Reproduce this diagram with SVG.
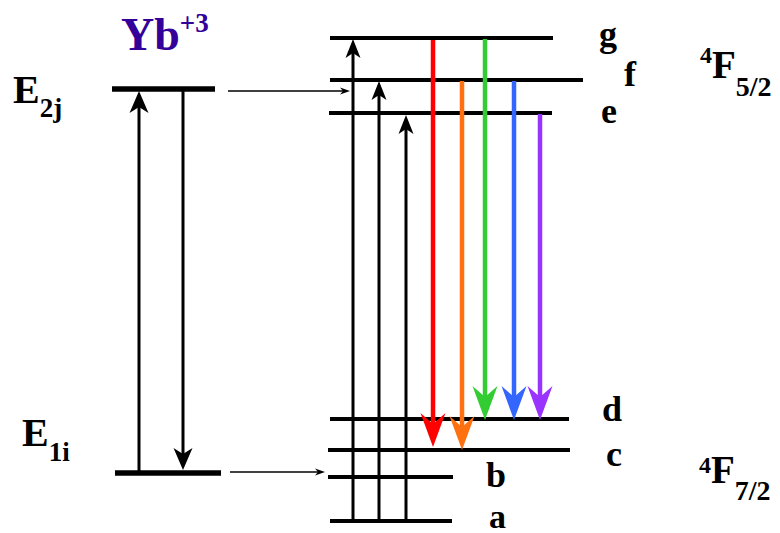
<svg xmlns="http://www.w3.org/2000/svg" width="780" height="533" viewBox="0 0 780 533">
<style>
.t{font-family:"Liberation Serif","Times New Roman",serif;font-weight:700;fill:#000}
.lvL{stroke:#000;stroke-width:5.5}
.lvR{stroke:#000;stroke-width:4}
.ab{stroke:#000;stroke-width:3;fill:none}
.thin{stroke:#000;stroke-width:1.3;fill:none}
.c{stroke-width:4.5;fill:none}
</style>
<defs>
<marker id="mBig" markerUnits="userSpaceOnUse" viewBox="-22 -10 22 20" refX="-16" refY="0" markerWidth="22" markerHeight="20" orient="auto"><path d="M0,0 L-22,-9.5 L-16,0 L-22,9.5 Z" fill="#000"/></marker>
<marker id="mMid" markerUnits="userSpaceOnUse" viewBox="-19 -8 19 16" refX="-14" refY="0" markerWidth="19" markerHeight="16" orient="auto"><path d="M0,0 L-19,-7.5 L-14,0 L-19,7.5 Z" fill="#000"/></marker>
<marker id="mThin" markerUnits="userSpaceOnUse" viewBox="-10 -4 10 8" refX="-7" refY="0" markerWidth="10" markerHeight="8" orient="auto"><path d="M0,0 L-10,-3.5 L-7,0 L-10,3.5 Z" fill="#000"/></marker>
<marker id="mR" markerUnits="userSpaceOnUse" viewBox="-34 -13 34 26" refX="-23" refY="0" markerWidth="34" markerHeight="26" orient="auto"><path d="M0,0 L-34,-12.5 L-23,0 L-34,12.5 Z" fill="#ff0000"/></marker>
<marker id="mO" markerUnits="userSpaceOnUse" viewBox="-34 -13 34 26" refX="-23" refY="0" markerWidth="34" markerHeight="26" orient="auto"><path d="M0,0 L-34,-12.5 L-23,0 L-34,12.5 Z" fill="#ff7010"/></marker>
<marker id="mG" markerUnits="userSpaceOnUse" viewBox="-34 -13 34 26" refX="-23" refY="0" markerWidth="34" markerHeight="26" orient="auto"><path d="M0,0 L-34,-12.5 L-23,0 L-34,12.5 Z" fill="#33cc33"/></marker>
<marker id="mB" markerUnits="userSpaceOnUse" viewBox="-34 -13 34 26" refX="-23" refY="0" markerWidth="34" markerHeight="26" orient="auto"><path d="M0,0 L-34,-12.5 L-23,0 L-34,12.5 Z" fill="#3366ff"/></marker>
<marker id="mP" markerUnits="userSpaceOnUse" viewBox="-34 -13 34 26" refX="-23" refY="0" markerWidth="34" markerHeight="26" orient="auto"><path d="M0,0 L-34,-12.5 L-23,0 L-34,12.5 Z" fill="#9933ff"/></marker>
</defs>
<rect width="780" height="533" fill="#fff"/>

<g id="title"><text class="t" x="121" y="50" font-size="46" style="fill:#330099">Yb<tspan font-size="27" dy="-18">+3</tspan></text></g>

<g id="E2j"><line class="lvL" x1="112" y1="89" x2="215" y2="89"/><text class="t" x="13" y="103" font-size="40">E<tspan font-size="27" dy="14">2j</tspan></text></g>
<g id="E1i"><line class="lvL" x1="115" y1="473" x2="221" y2="473"/><text class="t" x="22" y="446" font-size="40">E<tspan font-size="27" dy="15">1i</tspan></text></g>

<g id="level-g"><line class="lvR" x1="330" y1="38" x2="553" y2="38"/><text class="t" x="599" y="46" font-size="36">g</text></g>
<g id="level-f"><line class="lvR" x1="330" y1="80" x2="583" y2="80"/><text class="t" x="624" y="86" font-size="36">f</text></g>
<g id="level-e"><line class="lvR" x1="329" y1="113" x2="552" y2="113"/><text class="t" x="601" y="123" font-size="36">e</text></g>
<g id="level-d"><line class="lvR" x1="330" y1="419" x2="569" y2="419"/><text class="t" x="602" y="421" font-size="36">d</text></g>
<g id="level-c"><line class="lvR" x1="328" y1="450" x2="570" y2="450"/><text class="t" x="606" y="466" font-size="36">c</text></g>
<g id="level-b"><line class="lvR" x1="328" y1="477" x2="453" y2="477"/><text class="t" x="486" y="487" font-size="36">b</text></g>
<g id="level-a"><line class="lvR" x1="330" y1="521" x2="452" y2="521"/><text class="t" x="489" y="528" font-size="34">a</text></g>

<g id="term-4F52"><text class="t" x="700" y="63" font-size="24">4<tspan font-size="39" dy="15">F</tspan><tspan font-size="28" dy="18">5/2</tspan></text></g>
<g id="term-4F72"><text class="t" x="699" y="473" font-size="24">4<tspan font-size="39" dy="10">F</tspan><tspan font-size="28" dy="17">7/2</tspan></text></g>

<g id="connectors">
<line class="ab" x1="139" y1="473" x2="139" y2="107" marker-end="url(#mBig)"/>
<line class="ab" x1="183" y1="89" x2="183" y2="454" marker-end="url(#mBig)"/>
<line class="thin" x1="228" y1="91" x2="343" y2="91" marker-end="url(#mThin)"/>
<line class="thin" x1="230" y1="472" x2="318" y2="472" marker-end="url(#mThin)"/>
<line class="ab" x1="353" y1="521" x2="353" y2="53" marker-end="url(#mMid)"/>
<line class="ab" x1="379" y1="521" x2="379" y2="95" marker-end="url(#mMid)"/>
<line class="ab" x1="406" y1="521" x2="406" y2="129" marker-end="url(#mMid)"/>
<line class="c" stroke="#ff0000" x1="433" y1="40" x2="433" y2="424" marker-end="url(#mR)"/>
<line class="c" stroke="#ff7010" x1="462" y1="81" x2="462" y2="427" marker-end="url(#mO)"/>
<line class="c" stroke="#33cc33" x1="485" y1="39" x2="485" y2="397" marker-end="url(#mG)"/>
<line class="c" stroke="#3366ff" x1="514" y1="81" x2="514" y2="397" marker-end="url(#mB)"/>
<line class="c" stroke="#9933ff" x1="540" y1="114" x2="540" y2="397" marker-end="url(#mP)"/>
</g>
</svg>
